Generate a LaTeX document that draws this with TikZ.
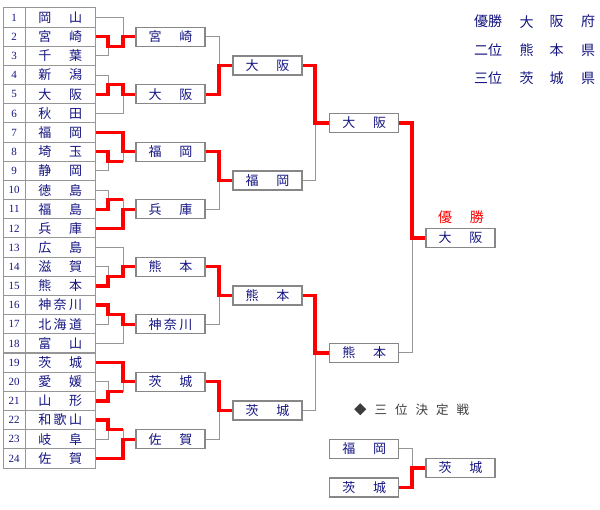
\documentclass[tikz,border=0pt]{standalone}
\usepackage{fontspec}
\newfontfamily\jp{Noto Sans CJK JP}
\newfontfamily\numf{Liberation Serif}
\usetikzlibrary{calc}
\definecolor{navy}{RGB}{20,20,130}
\definecolor{lgray}{RGB}{150,150,150}
\definecolor{bgray}{RGB}{135,135,135}
\definecolor{wred}{RGB}{255,0,0}
\definecolor{ttlgray}{RGB}{60,60,60}
\newcommand{\twoch}[2]{\makebox[44pt]{#1\hfill#2}}
\newcommand{\trioch}[3]{\makebox[44pt]{#1\hfill#2\hfill#3}}
\tikzset{
  box/.style={draw=bgray, line width=1.4pt, fill=white, minimum width=69pt, minimum height=19pt, inner sep=0pt, text=navy, font=\jp\fontsize{13}{13}\selectfont},
  numcell/.style={draw=lgray, line width=1pt, minimum width=22.5pt, minimum height=19.17pt, inner sep=0pt, text=navy, font=\numf\fontsize{11}{11}\selectfont},
  namecell/.style={draw=lgray, line width=1pt, minimum width=69.5pt, minimum height=19.17pt, inner sep=0pt, text=navy, font=\jp\fontsize{13}{13}\selectfont},
  gl/.style={draw=lgray, line width=1pt},
  rl/.style={draw=wred, line width=3.4pt, line join=miter},
  legend/.style={text=navy, inner sep=0pt, font=\jp\fontsize{14}{14}\selectfont}
}
\begin{document}
\begin{tikzpicture}[x=1pt,y=-1pt]
\useasboundingbox (0,0) rectangle (600,510);
% table
\foreach \i/\nm in {1/{\twoch{岡}{山}},2/{\twoch{宮}{崎}},3/{\twoch{千}{葉}},4/{\twoch{新}{潟}},5/{\twoch{大}{阪}},6/{\twoch{秋}{田}},7/{\twoch{福}{岡}},8/{\twoch{埼}{玉}},9/{\twoch{静}{岡}},10/{\twoch{徳}{島}},11/{\twoch{福}{島}},12/{\twoch{兵}{庫}},13/{\twoch{広}{島}},14/{\twoch{滋}{賀}},15/{\twoch{熊}{本}},16/{\trioch{神}{奈}{川}},17/{\trioch{北}{海}{道}},18/{\twoch{富}{山}},19/{\twoch{茨}{城}},20/{\twoch{愛}{媛}},21/{\twoch{山}{形}},22/{\trioch{和}{歌}{山}},23/{\twoch{岐}{阜}},24/{\twoch{佐}{賀}}}{
  \node[numcell] (n\i) at (14.25,{8+(\i-0.5)*19.1667}) {\i};
  \node[namecell] (t\i) at (60.25,{8+(\i-0.5)*19.1667}) {\nm};
}
% column coordinates
\coordinate (X1) at (108,0);
\coordinate (X2) at (123,0);
\coordinate (X3) at (219,0);
\coordinate (X4) at (315,0);
\coordinate (X5) at (412,0);
% round 2 boxes
\foreach \g/\r/\nm in {1/2/{\twoch{宮}{崎}},2/5/{\twoch{大}{阪}},3/8/{\twoch{福}{岡}},4/11/{\twoch{兵}{庫}},5/14/{\twoch{熊}{本}},6/17/{\trioch{神}{奈}{川}},7/20/{\twoch{茨}{城}},8/23/{\twoch{佐}{賀}}}{
  \node[box] (b\g) at (170.5,{8+(\r-0.5)*19.1667}) {\nm};
}
% round 3 boxes
\node[box] (c1) at (267.5,65.5) {\twoch{大}{阪}};
\node[box] (c2) at (267.5,180.5) {\twoch{福}{岡}};
\node[box] (c3) at (267.5,295.5) {\twoch{熊}{本}};
\node[box] (c4) at (267.5,410.5) {\twoch{茨}{城}};
% semis
\node[box] (s1) at (364.25,123) {\twoch{大}{阪}};
\node[box] (s2) at (364.25,353) {\twoch{熊}{本}};
% final
\node[box] (f) at (460.5,238) {\twoch{大}{阪}};
\node[text=wred, inner sep=0pt, font=\jp\fontsize{14}{14}\selectfont] (champ) at (461,217) {\makebox[46pt]{優\hfill 勝}};
% third place
\node[box] (q1) at (364.25,448.8) {\twoch{福}{岡}};
\node[box] (q2) at (364.25,487.5) {\twoch{茨}{城}};
\node[box] (q3) at (460.5,468) {\twoch{茨}{城}};
\node[anchor=west, inner sep=0pt, text=ttlgray, font=\jp\fontsize{12.5}{12.5}\selectfont] (ttl) at (354,410) {◆\hspace{8pt}三\hspace{8pt}位\hspace{8pt}決\hspace{8pt}定\hspace{8pt}戦};
% legend
\node[legend] (la1) at (488,21.7) {優勝};
\node[legend] (la2) at (526.7,21.7) {大};
\node[legend] (la3) at (556.7,21.7) {阪};
\node[legend] (la4) at (588,21.7) {府};
\node[legend] (lb1) at (488,50) {二位};
\node[legend] (lb2) at (526.7,50) {熊};
\node[legend] (lb3) at (556.7,50) {本};
\node[legend] (lb4) at (588,50) {県};
\node[legend] (lc1) at (488,78) {三位};
\node[legend] (lc2) at (526.7,78) {茨};
\node[legend] (lc3) at (556.7,78) {城};
\node[legend] (lc4) at (588,78) {県};
% round 1 gray
\foreach \g/\p/\q/\b in {1/2/3/1,2/4/5/6,3/8/9/7,4/10/11/12,5/14/15/13,6/16/17/18,7/20/21/19,8/22/23/24}{
  \path ($(t\p.east)!.5!(t\q.east)$) coordinate (mm\g);
  \draw[gl] (t\p.east) -- (X1 |- t\p.east) -- (X1 |- t\q.east) -- (t\q.east);
  \draw[gl] (X1 |- mm\g) -- (X2 |- mm\g) -- (X2 |- t\b.east) -- (t\b.east);
  \draw[gl] (X2 |- b\g.west) -- (b\g.west);
}
% round 2/3 gray
\foreach \k/\i/\j in {1/1/2,2/3/4,3/5/6,4/7/8}{
  \draw[gl] (b\i.east) -- (X3 |- b\i.east) -- (X3 |- b\j.east) -- (b\j.east);
  \draw[gl] (X3 |- c\k.west) -- (c\k.west);
}
\draw[gl] (c1.east) -- (X4 |- c1.east) -- (X4 |- c2.east) -- (c2.east);
\draw[gl] (X4 |- s1.west) -- (s1.west);
\draw[gl] (c3.east) -- (X4 |- c3.east) -- (X4 |- c4.east) -- (c4.east);
\draw[gl] (X4 |- s2.west) -- (s2.west);
\draw[gl] (s1.east) -- (X5 |- s1.east) -- (X5 |- s2.east) -- (s2.east);
\draw[gl] (X5 |- f.west) -- (f.west);
\draw[gl] (q1.east) -- (X5 |- q1.east) -- (X5 |- q2.east) -- (q2.east);
\draw[gl] (X5 |- q3.west) -- (q3.west);
% red paths round 1
\foreach \g/\w in {1/2,2/5,5/15,6/16}{
  \draw[rl] (t\w.east) -- (X1 |- t\w.east) -- (X1 |- mm\g) -- (X2 |- mm\g) -- (X2 |- b\g.west) -- (b\g.west);
}
\foreach \g/\w/\b in {3/8/7,4/11/12,7/21/19,8/22/24}{
  \draw[rl] (t\w.east) -- (X1 |- t\w.east) -- (X1 |- mm\g) -- (X2 |- mm\g);
  \draw[rl] (t\b.east) -- (X2 |- t\b.east) -- (X2 |- b\g.west) -- (b\g.west);
}
% red later rounds
\foreach \k/\w in {1/2,2/3,3/5,4/7}{
  \draw[rl] (b\w.east) -- (X3 |- b\w.east) -- (X3 |- c\k.west) -- (c\k.west);
}
\draw[rl] (c1.east) -- (X4 |- c1.east) -- (X4 |- s1.west) -- (s1.west);
\draw[rl] (c3.east) -- (X4 |- c3.east) -- (X4 |- s2.west) -- (s2.west);
\draw[rl] (s1.east) -- (X5 |- s1.east) -- (X5 |- f.west) -- (f.west);
\draw[rl] (q2.east) -- (X5 |- q2.east) -- (X5 |- q3.west) -- (q3.west);
\end{tikzpicture}
\end{document}
